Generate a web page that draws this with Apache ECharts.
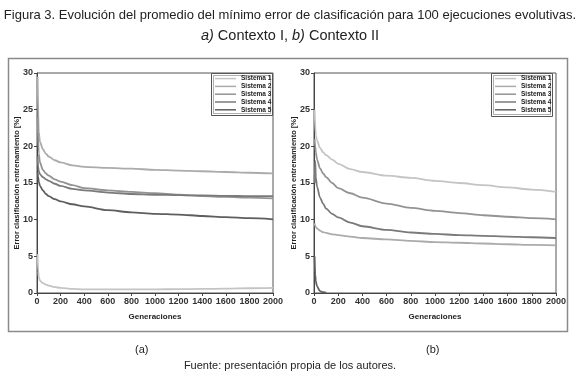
<!DOCTYPE html>
<html>
<head>
<meta charset="utf-8">
<script src="https://cdn.jsdelivr.net/npm/echarts@6/dist/echarts.min.js"></script>
<style>
  html, body { margin: 0; padding: 0; background: #fff; }
  #chart { width: 580px; height: 378px; }
</style>
</head>
<body>
<div id="chart"></div>
<script>
// generations sampled along the x axis
const gens = [5, 10, 15, 25, 50, 75, 100, 150, 200, 300, 400, 600, 800, 1000, 1200, 1400, 1600, 1800, 2000];
const systemNames = ['Sistema 1', 'Sistema 2', 'Sistema 3', 'Sistema 4', 'Sistema 5'];
const systemColors = ['#c4c4c4', '#ababab', '#939393', '#7a7a7a', '#5e5e5e'];

// (a) Contexto I
const ctx1Sys1 = [5.3, 3.0, 2.2, 1.7, 1.35, 1.15, 1.0, 0.8, 0.7, 0.55, 0.5, 0.5, 0.5, 0.5, 0.52, 0.55, 0.6, 0.65, 0.7];
const ctx1Sys2 = [29.5, 29.5, 22.0, 20.6, 19.6, 19.0, 18.6, 18.1, 17.8, 17.4, 17.2, 17.05, 16.95, 16.8, 16.7, 16.6, 16.5, 16.4, 16.3];
const ctx1Sys3 = [24.0, 24.0, 19.0, 17.8, 16.8, 16.3, 16.0, 15.5, 15.2, 14.7, 14.3, 14.0, 13.8, 13.6, 13.4, 13.2, 13.1, 13.0, 12.9];
const ctx1Sys4 = [18.6, 17.2, 16.6, 16.2, 15.8, 15.5, 15.3, 14.9, 14.6, 14.2, 14.0, 13.7, 13.5, 13.4, 13.35, 13.3, 13.25, 13.2, 13.2];
const ctx1Sys5 = [16.5, 15.8, 15.2, 14.6, 14.0, 13.5, 13.2, 12.8, 12.5, 12.1, 11.8, 11.3, 11.0, 10.8, 10.7, 10.5, 10.35, 10.2, 10.05];

// (b) Contexto II
const ctx2Sys1 = [25.0, 25.0, 21.5, 20.8, 19.8, 19.2, 18.8, 18.2, 17.6, 16.9, 16.5, 16.0, 15.7, 15.3, 15.0, 14.7, 14.4, 14.1, 13.8];
const ctx2Sys2 = [9.5, 9.5, 9.0, 8.8, 8.5, 8.3, 8.2, 8.0, 7.9, 7.7, 7.5, 7.3, 7.1, 6.95, 6.85, 6.75, 6.65, 6.55, 6.5];
const ctx2Sys3 = [21.0, 20.0, 19.2, 18.2, 17.0, 16.3, 15.8, 15.0, 14.3, 13.6, 13.0, 12.2, 11.6, 11.2, 10.9, 10.6, 10.4, 10.2, 10.05];
const ctx2Sys4 = [15.0, 18.0, 15.8, 14.5, 13.0, 12.2, 11.5, 10.8, 10.3, 9.6, 9.1, 8.6, 8.25, 8.05, 7.9, 7.8, 7.7, 7.6, 7.5];
const ctx2Sys5 = [5.0, 2.5, 1.6, 0.9, 0.25, 0.1, 0.05, null, null, null, null, null, null, null, null, null, null, null, null];

const ctx1 = [ctx1Sys1, ctx1Sys2, ctx1Sys3, ctx1Sys4, ctx1Sys5];
const ctx2 = [ctx2Sys1, ctx2Sys2, ctx2Sys3, ctx2Sys4, ctx2Sys5];

const yTicks = { min: 0, max: 30, interval: 5 };
const xTicks = { min: 0, max: 2000, interval: 200 };

const FONT = '"Liberation Sans", Arial, sans-serif';

function pairs(vals) {
  const out = [];
  vals.forEach((v, i) => { if (v !== null) out.push([gens[i], v]); });
  return out;
}

function makeSeries(sets, idx) {
  return sets.map((vals, s) => ({
    name: systemNames[s],
    type: 'line',
    xAxisIndex: idx,
    yAxisIndex: idx,
    data: pairs(vals),
    smooth: 0.3,
    smoothMonotone: 'x',
    showSymbol: false,
    silent: true,
    lineStyle: { width: 1.8, color: systemColors[s] },
    itemStyle: { color: systemColors[s] }
  }));
}

const tickLabel = {
  fontFamily: FONT, fontSize: 9, color: '#333', fontWeight: 'bold', margin: 4,
  showMinLabel: true, showMaxLabel: true, hideOverlap: false,
  formatter: v => String(v)
};

function xAxis(idx) {
  return {
    type: 'value',
    gridIndex: idx,
    min: xTicks.min,
    max: xTicks.max,
    interval: xTicks.interval,
    name: 'Generaciones',
    nameLocation: 'middle',
    nameGap: 20,
    nameMoveOverlap: false,
    nameTextStyle: { fontFamily: FONT, fontSize: 8, color: '#222', fontWeight: 'bold' },
    axisLine: { lineStyle: { color: '#444', width: 1 } },
    axisTick: { show: true, length: 3, inside: false, lineStyle: { color: '#444' } },
    axisLabel: tickLabel,
    splitLine: { show: false }
  };
}

function yAxis(idx) {
  return {
    type: 'value',
    gridIndex: idx,
    min: yTicks.min,
    max: yTicks.max,
    interval: yTicks.interval,
    name: 'Error clasificación entrenamiento [%]',
    nameLocation: 'middle',
    nameGap: 16,
    nameMoveOverlap: false,
    nameTextStyle: { fontFamily: FONT, fontSize: 7.5, color: '#222', fontWeight: 'bold' },
    axisLine: { lineStyle: { color: '#444', width: 1 } },
    axisTick: { show: true, length: 3, inside: false, lineStyle: { color: '#444' } },
    axisLabel: tickLabel,
    splitLine: { show: false }
  };
}

function legend(left) {
  return {
    data: systemNames,
    orient: 'vertical',
    left: left,
    top: 75,
    icon: 'rect',
    itemWidth: 21,
    itemHeight: 1.5,
    itemGap: 0.6,
    padding: 0,
    selectedMode: false,
    textStyle: { fontFamily: FONT, fontSize: 6.5, color: '#222', fontWeight: 'bold', lineHeight: 7.2 }
  };
}

const chart = echarts.init(document.getElementById('chart'), null, { renderer: 'canvas' });

chart.setOption({
  animation: false,
  backgroundColor: '#fff',
  title: [
    {
      text: 'Figura 3. Evolución del promedio del mínimo error de clasificación para 100 ejecuciones evolutivas.',
      left: 'center',
      top: 4,
      textStyle: { fontFamily: FONT, fontSize: 13, fontWeight: 'normal', color: '#222' }
    },
    {
      text: '{i|a)} Contexto I, {i|b)} Contexto II',
      left: 'center',
      top: 23,
      textStyle: {
        fontFamily: FONT, fontSize: 14.5, fontWeight: 'normal', color: '#222',
        rich: { i: { fontFamily: FONT, fontSize: 14.5, fontStyle: 'italic', color: '#222' } }
      }
    }
  ],
  grid: [
    { left: 37, right: 307, top: 73, bottom: 85, show: true, borderColor: '#555', borderWidth: 1 },
    { left: 314, right: 24, top: 73, bottom: 85, show: true, borderColor: '#555', borderWidth: 1 }
  ],
  xAxis: [xAxis(0), xAxis(1)],
  yAxis: [yAxis(0), yAxis(1)],
  legend: [legend(215), legend(495)],
  series: makeSeries(ctx1, 0).concat(makeSeries(ctx2, 1)),
  graphic: [
    { type: 'rect', shape: { x: 8.5, y: 58.5, width: 559, height: 273 }, style: { fill: null, stroke: '#8a8a8a', lineWidth: 1.5 }, silent: true },
    { type: 'rect', shape: { x: 211.5, y: 73.5, width: 61, height: 42 }, style: { fill: null, stroke: '#555', lineWidth: 1 }, silent: true },
    { type: 'rect', shape: { x: 213.5, y: 75.5, width: 57, height: 38 }, style: { fill: null, stroke: '#777', lineWidth: 0.6 }, silent: true },
    { type: 'rect', shape: { x: 491.5, y: 73.5, width: 61, height: 43 }, style: { fill: null, stroke: '#555', lineWidth: 1 }, silent: true },
    { type: 'rect', shape: { x: 493.5, y: 75.5, width: 57, height: 39 }, style: { fill: null, stroke: '#777', lineWidth: 0.6 }, silent: true },
    { type: 'text', left: 135, top: 344, style: { text: '(a)', font: '11px ' + FONT, fill: '#222' } },
    { type: 'text', left: 426, top: 344, style: { text: '(b)', font: '11px ' + FONT, fill: '#222' } },
    { type: 'text', left: 'center', top: 360, style: { text: 'Fuente: presentación propia de los autores.', font: '11px ' + FONT, fill: '#222' } }
  ]
});
</script>
</body>
</html>
